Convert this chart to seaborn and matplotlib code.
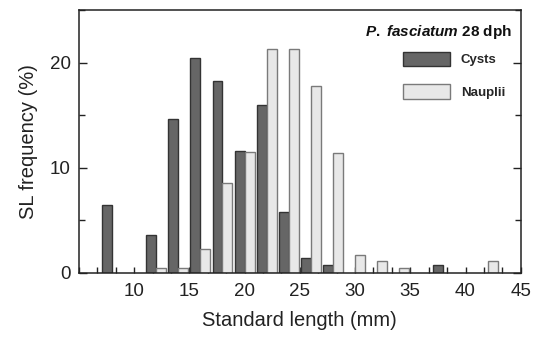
import matplotlib
matplotlib.use("Agg")
import matplotlib.pyplot as plt
from matplotlib.patches import Patch
from matplotlib.ticker import MultipleLocator
import pandas as pd
import seaborn as sns

# bin centres (mm) and SL frequency (%) for each diet
bins = [8, 10, 12, 14, 16, 18, 20, 22, 24, 26, 28, 30, 32, 34, 36, 38, 40, 42]
cysts = [6.5, 0, 3.6, 14.6, 20.4, 18.3, 11.6, 16.0, 5.8, 1.4, 0.75, 0, 0, 0, 0, 0.75, 0, 0]
nauplii = [0, 0, 0.5, 0.5, 2.3, 8.6, 11.5, 21.3, 21.3, 17.8, 11.4, 1.7, 1.1, 0.5, 0, 0, 0, 1.1]
groups = ["Cysts", "Nauplii"]
title = r"$\it{P.}$ $\it{fasciatum}$ 28 dph"

fills = ["#666666", "#e8e8e8"]
edges = ["#333333", "#7a7a7a"]

df = pd.DataFrame({
    "bin": bins * 2,
    "freq": cysts + nauplii,
    "feed": [groups[0]] * len(bins) + [groups[1]] * len(bins),
})
df = df[df["freq"] > 0]

sns.set_style("ticks")
plt.rcParams["font.family"] = ["Liberation Sans", "DejaVu Sans"]
plt.rcParams["mathtext.fontset"] = "custom"
plt.rcParams["mathtext.it"] = "Liberation Sans:bold:italic"
plt.rcParams["mathtext.rm"] = "Liberation Sans:bold"

fig = plt.figure(figsize=(5.33, 3.37), dpi=100)
ax = fig.add_axes([0.148, 0.19, 0.829, 0.78])

sns.barplot(data=df, x="bin", y="freq", hue="feed", hue_order=groups,
            palette=fills, native_scale=True, width=0.9, dodge=True,
            legend=False, ax=ax, saturation=1)

for cont, ec in zip(ax.containers, edges):
    for bar in cont:
        bar.set_edgecolor(ec)
        bar.set_linewidth(1.0)

ax.set_xlim(5, 45)
ax.set_ylim(0, 25)
ax.xaxis.set_major_locator(MultipleLocator(5))
ax.xaxis.set_minor_locator(MultipleLocator(5 / 3))
ax.yaxis.set_major_locator(MultipleLocator(10))
ax.yaxis.set_minor_locator(MultipleLocator(5))
ax.set_xticks(range(10, 46, 5))

ax.tick_params(axis="both", which="both", direction="in", labelsize=13.5, colors="#222222")
ax.tick_params(axis="x", which="major", length=4, width=1, pad=7)
ax.tick_params(axis="x", which="minor", length=4, width=1)
ax.tick_params(axis="y", which="major", length=6, width=1, right=True, pad=6)
ax.tick_params(axis="y", which="minor", length=4, width=1, right=True)

for s in ax.spines.values():
    s.set_visible(True)
    s.set_linewidth(1.1)
    s.set_color("#222222")

ax.set_xlabel("Standard length (mm)", fontsize=14.5, labelpad=8, color="#222222")
ax.set_ylabel("SL frequency (%)", fontsize=14.5, labelpad=8, color="#222222")

handles = [Patch(facecolor=f, edgecolor=e, linewidth=1.0) for f, e in zip(fills, edges)]
ax.legend(handles, groups, loc="upper left", bbox_to_anchor=(0.743, 0.866),
          bbox_transform=fig.transFigure, frameon=False, borderpad=0,
          prop={"weight": "bold", "size": 9.5},
          handlelength=3.6, handleheight=1.3, handletextpad=0.8,
          labelspacing=1.35)
fig.text(0.961, 0.905, title, ha="right", va="center",
         fontsize=11, fontweight="bold", color="#111111")

fig.savefig("out.png", dpi=100)
